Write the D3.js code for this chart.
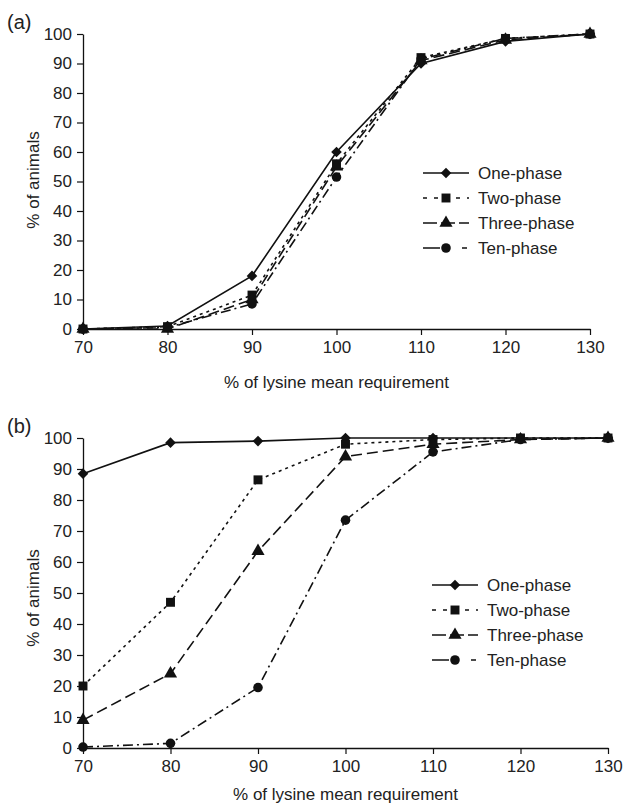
<!DOCTYPE html>
<html>
<head>
<meta charset="utf-8">
<script src="https://cdn.jsdelivr.net/npm/d3@7"></script>
<style>
  body { margin: 0; background: #fff; }
  text { font-family: "Liberation Sans", Arial, sans-serif; fill: #222; }
</style>
</head>
<body>
<div id="chart"></div>
<script>
// x values (% of lysine mean requirement)
const lysine = [70, 80, 90, 100, 110, 120, 130];
const seriesNames = ["One-phase", "Two-phase", "Three-phase", "Ten-phase"];
const yTicks = [0, 10, 20, 30, 40, 50, 60, 70, 80, 90, 100];

// panel (a)
const aOne   = [0, 1, 18, 60, 90, 97.5, 100];
const aTwo   = [0, 0.8, 11.5, 56, 92, 98.5, 100];
const aThree = [0, 0, 10, 55, 91, 98, 100];
const aTen   = [0, 0.5, 8.5, 51.5, 91.5, 98.5, 100];

// panel (b)
const bOne   = [88.5, 98.5, 99, 100, 100, 100, 100];
const bTwo   = [20, 47, 86.5, 98, 99.5, 100, 100];
const bThree = [9, 24, 63.5, 94, 98, 99.5, 100];
const bTen   = [0.3, 1.5, 19.5, 73.5, 95.5, 99.5, 100];

const W = 630, H = 805;
const svg = d3.select("#chart").append("svg")
    .attr("width", W).attr("height", H);

const dashes = [null, "3,4", "11,5", "10,4,2,4"];
const legDashes = [null, "4,7", "14,4", "17,22,5,20"];
const symbols = [d3.symbolSquare, d3.symbolSquare, d3.symbolTriangle, d3.symbolCircle];
const symSize = [56, 80, 75, 72];
const symRot = [45, 0, 0, 0];

function marker(sel, k, cx, cy) {
    sel.append("path")
        .attr("transform", `translate(${cx},${cy}) rotate(${symRot[k]})`)
        .attr("d", d3.symbol().type(symbols[k]).size(symSize[k]))
        .attr("fill", "#111");
}

function panel(opt) {
    const g = svg.append("g");
    const x = d3.scaleLinear().domain([70, 130]).range([opt.left, opt.right]);
    const y = d3.scaleLinear().domain([0, 100]).range([opt.bottom, opt.top]);

    const xa = g.append("g")
        .attr("transform", `translate(0,${opt.bottom})`)
        .call(d3.axisBottom(x).tickValues(lysine).tickSize(6).tickPadding(6).tickSizeOuter(0));
    const ya = g.append("g")
        .attr("transform", `translate(${opt.left},0)`)
        .call(d3.axisLeft(y).tickValues(yTicks).tickSize(6).tickPadding(5).tickSizeOuter(0));
    [xa, ya].forEach(a => {
        a.select(".domain").attr("stroke", "#111").attr("stroke-width", 1.3);
        a.selectAll(".tick line").attr("stroke", "#111").attr("stroke-width", 1.2);
        a.selectAll("text").style("font-size", "17px").attr("fill", "#222");
    });

    g.append("text")
        .attr("x", (opt.left + opt.right) / 2)
        .attr("y", opt.bottom + opt.titleGap)
        .attr("text-anchor", "middle")
        .style("font-size", "17px")
        .text("% of lysine mean requirement");

    g.append("text")
        .attr("transform", `translate(39,${opt.yTitle}) rotate(-90)`)
        .attr("text-anchor", "middle")
        .style("font-size", "17px")
        .text("% of animals");

    g.append("text")
        .attr("x", 7).attr("y", opt.top - 5)
        .style("font-size", "20px")
        .text(opt.label);

    const line = d3.line()
        .x((d, i) => x(lysine[i]))
        .y(d => y(d));

    opt.series.forEach((vals, k) => {
        g.append("path")
            .datum(vals)
            .attr("fill", "none")
            .attr("stroke", "#111")
            .attr("stroke-width", 1.6)
            .attr("stroke-dasharray", dashes[k])
            .attr("d", line);
    });
    opt.series.forEach((vals, k) => {
        vals.forEach((d, i) => marker(g, k, x(lysine[i]), y(d)));
    });

    // legend
    const lg = g.append("g");
    seriesNames.forEach((name, k) => {
        const ly = opt.legY + k * opt.legStep;
        lg.append("line")
            .attr("x1", opt.legX).attr("x2", opt.legX + 46)
            .attr("y1", ly).attr("y2", ly)
            .attr("stroke", "#111").attr("stroke-width", 1.6)
            .attr("stroke-dasharray", legDashes[k]);
        marker(lg, k, opt.legX + 23, ly);
        lg.append("text")
            .attr("x", opt.legX + 55).attr("y", ly)
            .attr("dy", "0.35em")
            .style("font-size", "17px")
            .text(name);
    });
}

panel({
    label: "(a)", left: 83, right: 590, top: 34, bottom: 329,
    series: [aOne, aTwo, aThree, aTen],
    legX: 423, legY: 173, legStep: 25, titleGap: 59, yTitle: 180
});

panel({
    label: "(b)", left: 83, right: 608, top: 438, bottom: 748,
    series: [bOne, bTwo, bThree, bTen],
    legX: 432, legY: 585, legStep: 25, titleGap: 52, yTitle: 598
});
</script>
</body>
</html>
